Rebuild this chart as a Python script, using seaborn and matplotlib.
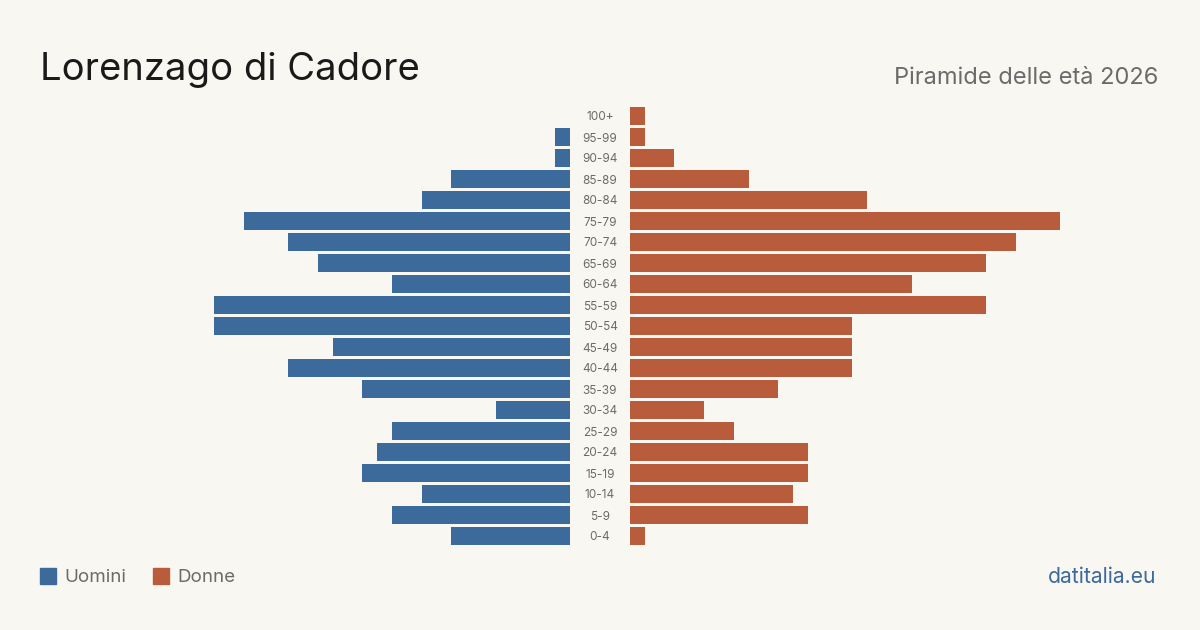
import matplotlib
matplotlib.use('Agg')
import matplotlib.pyplot as plt
import seaborn as sns
import numpy as np
import pandas as pd
from matplotlib.patches import Rectangle

# dati (dall'alto verso il basso)
classi = ['100+', '95-99', '90-94', '85-89', '80-84', '75-79', '70-74', '65-69',
          '60-64', '55-59', '50-54', '45-49', '40-44', '35-39', '30-34', '25-29',
          '20-24', '15-19', '10-14', '5-9', '0-4']
uomini = [0, 1, 1, 8, 10, 22, 19, 17, 12, 24, 24, 16, 19, 14, 5, 12, 13, 14, 10, 12, 8]
donne = [1, 1, 3, 8, 16, 29, 26, 24, 19, 24, 15, 15, 15, 10, 5, 7, 12, 12, 11, 12, 1]

BG = '#f9f7f2'
BLU = '#3b6a9b'
ARANCIO = '#b95c3b'
GRIGIO = '#6b6b6b'

sns.set_theme(style='white')
plt.rcParams['font.family'] = ['Inter', 'DejaVu Sans']

df = pd.DataFrame({'classe': classi, 'Uomini': uomini, 'Donne': donne})
xmax = max(max(uomini), max(donne))

fig = plt.figure(figsize=(12, 6.3), dpi=100)
fig.patch.set_facecolor(BG)

W, H = 1200.0, 630.0
top, bottom = 105.5, 546.5
axL = fig.add_axes([140 / W, 1 - bottom / H, 430 / W, (bottom - top) / H])
axR = fig.add_axes([630 / W, 1 - bottom / H, 430 / W, (bottom - top) / H])

sns.barplot(data=df, x='Uomini', y='classe', ax=axL, color=BLU, width=0.81,
            saturation=1, orient='h', linewidth=0)
sns.barplot(data=df, x='Donne', y='classe', ax=axR, color=ARANCIO, width=0.81,
            saturation=1, orient='h', linewidth=0)

axL.set_xlim(xmax, 0)
axR.set_xlim(0, xmax)
for ax in (axL, axR):
    ax.set_facecolor('none')
    ax.set_ylim(len(classi) - 0.5, -0.5)
    ax.set_xlabel('')
    ax.set_ylabel('')
    ax.set_xticks([])
    sns.despine(ax=ax, left=True, bottom=True)
axL.set_yticks([])
axR.set_yticks(range(len(classi)))
axR.set_yticklabels(classi, fontsize=8.5, color=GRIGIO, ha='center')
axR.tick_params(axis='y', length=0, pad=21.6)

# titoli
fig.text(40 / W, 1 - 80 / H, 'Lorenzago di Cadore', fontsize=27.5, color='#1a1a1a',
         ha='left', va='baseline')
fig.text(1158 / W, 1 - 84 / H, 'Piramide delle età 2026', fontsize=17, color=GRIGIO,
         ha='right', va='baseline')

# legenda
for x0, col, lab in [(40, BLU, 'Uomini'), (153, ARANCIO, 'Donne')]:
    fig.patches.append(Rectangle((x0 / W, 1 - 584 / H), 16 / W, 16 / H,
                                 transform=fig.transFigure, color=col))
    fig.text((x0 + 24) / W, 1 - 577 / H, lab, fontsize=13.5, color=GRIGIO,
             ha='left', va='center')

fig.text(1156 / W, 1 - 577 / H, 'datitalia.eu', fontsize=15.2, color=BLU,
         ha='right', va='center')

plt.savefig('out.png', dpi=100, facecolor=BG)
plt.close()
